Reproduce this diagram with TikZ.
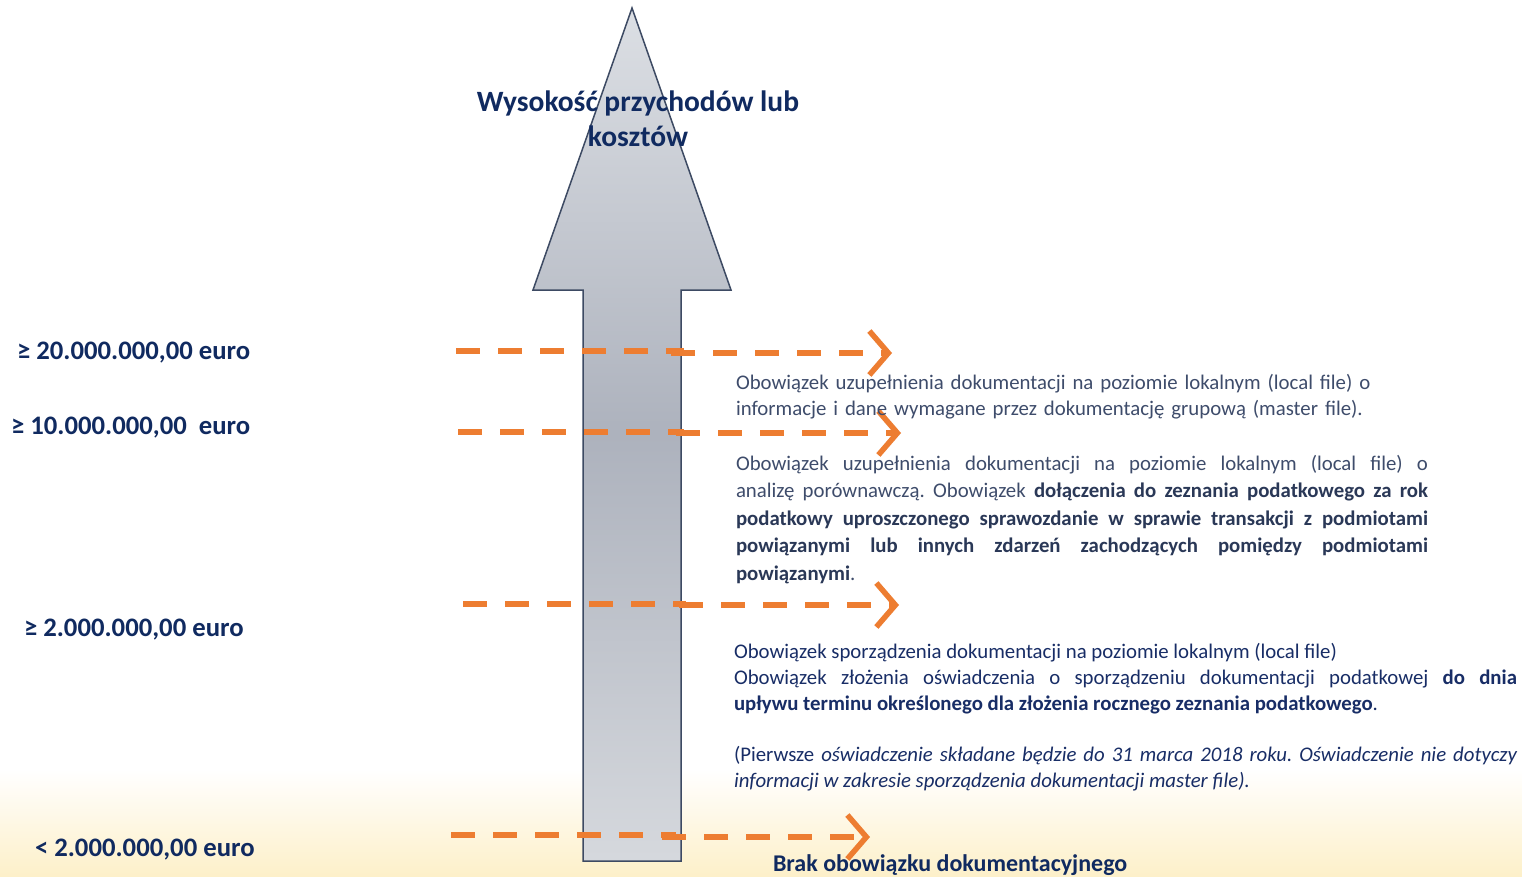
\documentclass[tikz,border=0pt]{standalone}
\usepackage{fontspec}
\setmainfont{Carlito}
\usetikzlibrary{arrows.meta}
\definecolor{navy}{HTML}{102A60}
\definecolor{notegray}{HTML}{3E4C6B}
\definecolor{notebold}{HTML}{2A3857}
\definecolor{navytext}{HTML}{182D66}
\definecolor{dashorange}{HTML}{ED7D31}
\definecolor{shaftline}{HTML}{3D4A63}
\definecolor{shaftlight}{HTML}{DCDFE4}
\definecolor{shaftdark}{HTML}{ADB2BD}
\definecolor{cream}{HTML}{FDF0C9}
\begin{document}
\frenchspacing
\begin{tikzpicture}[x=1pt,y=-1pt]
\tikzset{
  every node/.style={inner sep=0pt, outer sep=0pt},
  level/.style={anchor=west, font=\fontsize{26.7}{32}\selectfont\bfseries, text=navy},
  note/.style={anchor=north west, align=justify, font=\fontsize{20.8}{26}\selectfont, text=notegray},
  dashseg/.style={draw=dashorange, line width=5.5pt, dash pattern=on 24pt off 18pt},
  dasharr/.style={dashseg, -{Straight Barb[length=19pt, width=44pt]}}
}
\useasboundingbox (0,0) rectangle (1522,876);
% background fading to cream at the bottom
\fill[white] (0,0) rectangle (1522,876);
\shade[top color=white, bottom color=cream] (0,770) rectangle (1522,876);

% big arrow
\shade[top color=shaftlight, bottom color=shaftlight!97!black, middle color=shaftdark]
  (632,8) -- (731,290) -- (681,290) -- (681,861) -- (583,861) -- (583,290) -- (533,290) -- cycle;
\draw[shaftline, line width=1.5pt, line join=miter]
  (632,8) -- (731,290) -- (681,290) -- (681,861) -- (583,861) -- (583,290) -- (533,290) -- cycle;
\node[font=\fontsize{29.5}{35}\selectfont\bfseries, text=navy, align=center] (title) at (638,119)
  {Wysokość przychodów lub\\kosztów};

% threshold labels
\node[level] (lvl20) at (17,353) {≥ 20.000.000,00 euro};
\node[level] (lvl10) at (11,428) {≥ 10.000.000,00 \ euro};
\node[level] (lvl2) at (24,630) {≥ 2.000.000,00 euro};
\node[level] (lvl0) at (35,850) {< 2.000.000,00 euro};

% dashed arrows
\coordinate (d1a) at (456,351);
\coordinate (d1b) at (684,351);
\coordinate (d1c) at (671,353);
\coordinate (d1d) at (892,353);
\coordinate (d2a) at (458,432);
\coordinate (d2b) at (684,432);
\coordinate (d2c) at (676,433);
\coordinate (d2d) at (901,433);
\coordinate (d3a) at (463,604);
\coordinate (d3b) at (686,604);
\coordinate (d3c) at (679,605);
\coordinate (d3d) at (899,605);
\coordinate (d4a) at (451,835);
\coordinate (d4b) at (676,835);
\coordinate (d4c) at (662,837);
\coordinate (d4d) at (870,837);
\draw[dashseg] (d1a) -- (d1b);
\draw[dasharr] (d1c) -- (d1d);
\draw[dashseg] (d2a) -- (d2b);
\draw[dasharr] (d2c) -- (d2d);
\draw[dashseg] (d3a) -- (d3b);
\draw[dasharr] (d3c) -- (d3d);
\draw[dashseg] (d4a) -- (d4b);
\draw[dasharr] (d4c) -- (d4d);

% obligations
\node[note, align=left, text width=700pt] (note20) at (736,374)
  {Obowiązek uzupełnienia dokumentacji na poziomie lokalnym (local file) o\\
   informacje i dane wymagane przez dokumentację grupową (master file).};
\node[note, text width=692pt, font=\fontsize{20.8}{27.5}\selectfont] (note10) at (736,455)
  {Obowiązek uzupełnienia dokumentacji na poziomie lokalnym (local file) o\linebreak
   analizę porównawczą. Obowiązek {\color{notebold}\bfseries dołączenia do zeznania podatkowego za rok\linebreak
   podatkowy uproszczonego sprawozdanie w sprawie transakcji z podmiotami\linebreak
   powiązanymi lub innych zdarzeń zachodzących pomiędzy podmiotami\linebreak
   powiązanymi}.};
\node[note, text width=783pt, text=navytext, font=\fontsize{20.8}{25.9}\selectfont] (note2) at (734,643)
  {Obowiązek sporządzenia dokumentacji na poziomie lokalnym (local file)\\
   Obowiązek złożenia oświadczenia o sporządzeniu dokumentacji podatkowej {\bfseries do dnia\linebreak
   upływu terminu określonego dla złożenia rocznego zeznania podatkowego}.\par
   \vspace{25.9pt}
   (Pierwsze {\itshape oświadczenie składane będzie do 31 marca 2018 roku. Oświadczenie nie dotyczy\linebreak
   informacji w zakresie sporządzenia dokumentacji master file).}};
\node[anchor=west, font=\fontsize{24}{28}\selectfont\bfseries, text=navy] (none) at (773,865)
  {Brak obowiązku dokumentacyjnego};
\end{tikzpicture}
\end{document}
